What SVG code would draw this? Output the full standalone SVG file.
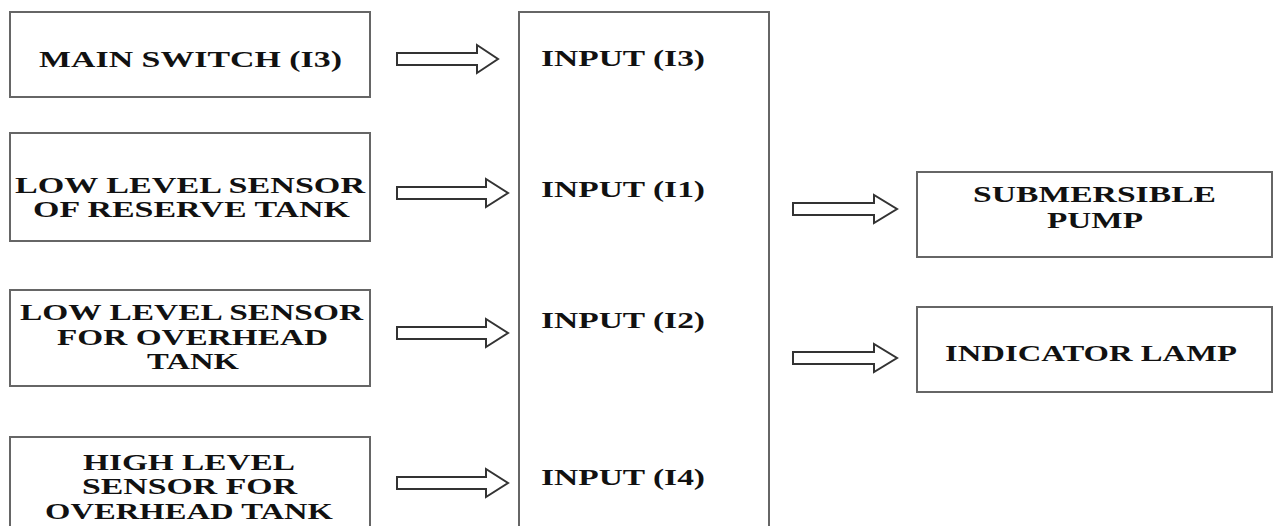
<svg xmlns="http://www.w3.org/2000/svg" width="1274" height="526" viewBox="0 0 1274 526">
<style>
.box{fill:#fff;stroke:#666;stroke-width:2}
.t{font-family:"Liberation Serif","Times New Roman",serif;font-weight:bold;font-size:24px;fill:#111}
.c{text-anchor:middle}
.arr{fill:#fff;stroke:#333;stroke-width:2;stroke-linejoin:miter}
</style>
<rect width="1274" height="526" fill="#fff"/>
<g id="main-switch">
<rect class="box" x="10" y="12" width="360" height="85"/>
<text class="t c" transform="translate(190.5,67) scale(1.35,1)" textLength="224.4" lengthAdjust="spacingAndGlyphs">MAIN SWITCH (I3)</text>
</g>
<g id="low-reserve">
<rect class="box" x="10" y="133" width="360" height="108"/>
<text class="t c" transform="translate(190,193) scale(1.35,1)" textLength="259.3" lengthAdjust="spacingAndGlyphs">LOW LEVEL SENSOR</text>
<text class="t c" transform="translate(191.5,217) scale(1.35,1)" textLength="234.8" lengthAdjust="spacingAndGlyphs">OF RESERVE TANK</text>
</g>
<g id="low-overhead">
<rect class="box" x="10" y="290" width="360" height="96"/>
<text class="t c" transform="translate(191.5,320) scale(1.35,1)" textLength="254.1" lengthAdjust="spacingAndGlyphs">LOW LEVEL SENSOR</text>
<text class="t c" transform="translate(192.5,345) scale(1.35,1)" textLength="200.7" lengthAdjust="spacingAndGlyphs">FOR OVERHEAD</text>
<text class="t c" transform="translate(193,369) scale(1.35,1)" textLength="68.1" lengthAdjust="spacingAndGlyphs">TANK</text>
</g>
<g id="high-overhead">
<rect class="box" x="10" y="437" width="360" height="120"/>
<text class="t c" transform="translate(189,470) scale(1.35,1)" textLength="157" lengthAdjust="spacingAndGlyphs">HIGH LEVEL</text>
<text class="t c" transform="translate(189.5,494) scale(1.35,1)" textLength="159.3" lengthAdjust="spacingAndGlyphs">SENSOR FOR</text>
<text class="t c" transform="translate(189,519) scale(1.35,1)" textLength="213.3" lengthAdjust="spacingAndGlyphs">OVERHEAD TANK</text>
</g>
<g id="controller">
<rect class="box" x="519" y="12" width="250" height="560"/>
<text class="t" transform="translate(541,66) scale(1.35,1)" textLength="121.5" lengthAdjust="spacingAndGlyphs">INPUT (I3)</text>
<text class="t" transform="translate(541,197) scale(1.35,1)" textLength="121.5" lengthAdjust="spacingAndGlyphs">INPUT (I1)</text>
<text class="t" transform="translate(541,328) scale(1.35,1)" textLength="121.5" lengthAdjust="spacingAndGlyphs">INPUT (I2)</text>
<text class="t" transform="translate(541,485) scale(1.35,1)" textLength="121.5" lengthAdjust="spacingAndGlyphs">INPUT (I4)</text>
</g>
<g id="pump">
<rect class="box" x="917" y="172" width="355" height="85"/>
<text class="t c" transform="translate(1094.5,202) scale(1.35,1)" textLength="180" lengthAdjust="spacingAndGlyphs">SUBMERSIBLE</text>
<text class="t c" transform="translate(1095,228) scale(1.35,1)" textLength="71.1" lengthAdjust="spacingAndGlyphs">PUMP</text>
</g>
<g id="lamp">
<rect class="box" x="917" y="307" width="355" height="85"/>
<text class="t c" transform="translate(1091,361) scale(1.35,1)" textLength="216.3" lengthAdjust="spacingAndGlyphs">INDICATOR LAMP</text>
</g>
<g id="connectors">
<polygon class="arr" points="397,53 477,53 477,45 498,59 477,73 477,65 397,65"/>
<polygon class="arr" points="397,187 486,187 486,179 508,193 486,207 486,199 397,199"/>
<polygon class="arr" points="397,327 486,327 486,319 508,333 486,347 486,339 397,339"/>
<polygon class="arr" points="397,477 486,477 486,469 508,483 486,497 486,489 397,489"/>
<polygon class="arr" points="793,203 874,203 874,195 897,209 874,223 874,215 793,215"/>
<polygon class="arr" points="793,352 874,352 874,344 897,358 874,372 874,364 793,364"/>
</g>
</svg>
